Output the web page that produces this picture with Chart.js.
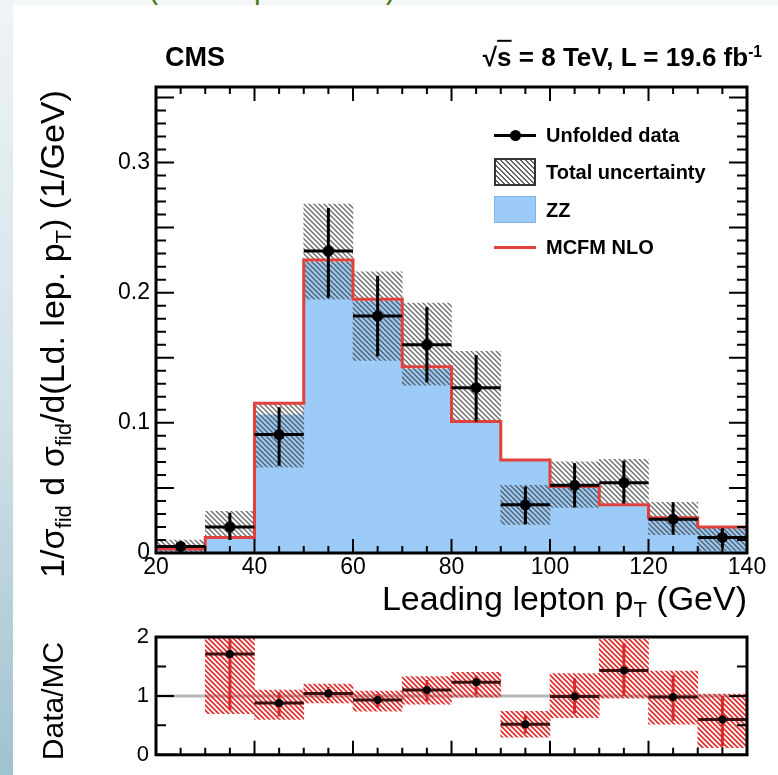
<!DOCTYPE html>
<html>
<head>
<meta charset="utf-8">
<script src="https://cdn.jsdelivr.net/npm/chart.js@4.4.1/dist/chart.umd.min.js"></script>
<style>
  body { margin: 0; width: 778px; height: 775px; overflow: hidden; position: relative;
         background: #f3f7f8; font-family: "Liberation Sans", Arial, sans-serif; }
  #strip { position: absolute; left: 0; top: 0; width: 13px; height: 775px;
           background: linear-gradient(#eef4f6, #cfe0e7 55%, #9fc2cf); }
  #panel { position: absolute; left: 13px; top: 5px; width: 765px; height: 770px; background: #fff; }
  canvas { position: absolute; left: 0; }
  .t { position: absolute; white-space: nowrap; color: #000; line-height: 1; }
  .green { position: absolute; top: -25px; font-size: 30px; line-height: 30px; color: #4d7a12; }
  .leg { position: absolute; left: 546px; font-weight: bold; font-size: 20px; transform: translateY(-50%); }
  sub { font-size: 65%; vertical-align: -0.35em; }
  sup { font-size: 60%; vertical-align: 0.6em; }
</style>
</head>
<body>
<div id="strip"></div>
<span class="green" style="left:149px">(</span>
<span class="green" style="left:254px">p</span>
<span class="green" style="left:385px">)</span>
<div id="panel"></div>

<canvas id="main" width="778" height="600" style="top:0"></canvas>
<canvas id="ratio" width="778" height="165" style="top:610px"></canvas>

<div class="t" style="left:165px; top:57px; transform:translateY(-50%); font-weight:bold; font-size:27px">CMS</div>
<div class="t" style="right:16px; top:57px; transform:translateY(-50%); font-weight:bold; font-size:26px">√<span style="text-decoration:overline">s</span> = 8 TeV, L = 19.6 fb<sup>-1</sup></div>

<div class="t" style="left:55px; top:334px; transform:translate(-50%,-50%) rotate(-90deg); font-size:34px">1/σ<sub>fid</sub> d σ<sub>fid</sub>/d(Ld. lep. p<sub>T</sub>) (1/GeV)</div>
<div class="t" style="right:31px; top:601px; transform:translateY(-50%); font-size:34px">Leading lepton p<sub>T</sub> (GeV)</div>
<div class="t" style="left:53px; top:701px; transform:translate(-50%,-50%) rotate(-90deg); font-size:30px">Data/MC</div>

<!-- legend -->
<div style="position:absolute; left:494px; top:134px; width:42px; height:3px; background:#000"></div>
<div style="position:absolute; left:510px; top:130px; width:11px; height:11px; border-radius:50%; background:#000"></div>
<div class="leg" style="top:135px">Unfolded data</div>
<div style="position:absolute; left:494px; top:158px; width:38px; height:24px; border:2px solid #333;
     background:repeating-linear-gradient(45deg, #fff 0 2px, #666 2px 3.5px)"></div>
<div class="leg" style="top:172px">Total uncertainty</div>
<div style="position:absolute; left:494px; top:196px; width:40px; height:25px; border:1px solid #7fb3ea; background:#9ccbf7"></div>
<div class="leg" style="top:210px">ZZ</div>
<div style="position:absolute; left:494px; top:246px; width:42px; height:3px; background:#e0403e"></div>
<div class="leg" style="top:247px">MCFM NLO</div>

<script>
// bins of leading lepton pT (GeV)
const binEdges = [20, 30, 40, 50, 60, 70, 80, 90, 100, 110, 120, 130, 140];
// unfolded data with stat error and total uncertainty band
const dataVal = [0.005, 0.020, 0.091, 0.232, 0.182, 0.160, 0.127, 0.037, 0.052, 0.054, 0.026, 0.012];
const errHi   = [0.009, 0.031, 0.112, 0.265, 0.213, 0.189, 0.152, 0.051, 0.069, 0.071, 0.039, 0.019];
const errLo   = [0.002, 0.010, 0.067, 0.196, 0.151, 0.131, 0.101, 0.022, 0.035, 0.038, 0.014, 0.004];
const uncHi   = [0.010, 0.032, 0.115, 0.268, 0.216, 0.192, 0.155, 0.052, 0.070, 0.072, 0.039, 0.020];
const uncLo   = [0.001, 0.012, 0.066, 0.195, 0.148, 0.129, 0.101, 0.022, 0.035, 0.038, 0.014, 0.002];
// predictions
const zzVal   = [0.003, 0.011, 0.106, 0.223, 0.193, 0.141, 0.100, 0.071, 0.050, 0.036, 0.026, 0.019];
const mcfmVal = [0.003, 0.012, 0.115, 0.225, 0.195, 0.143, 0.101, 0.0715, 0.051, 0.037, 0.027, 0.020];

// Data/MC ratio panel
const ratioEdges = [30, 40, 50, 60, 70, 80, 90, 100, 110, 120, 130, 140];
const ratioVal   = [1.71, 0.88, 1.04, 0.93, 1.10, 1.23, 0.52, 0.99, 1.43, 0.98, 0.60];
const ratioErrHi = [1.97, 1.06, 1.15, 1.03, 1.27, 1.34, 0.68, 1.30, 1.90, 1.35, 1.00];
const ratioErrLo = [0.76, 0.65, 0.93, 0.80, 0.91, 1.02, 0.36, 0.70, 1.00, 0.58, 0.15];
const ratioUncHi = [2.00, 1.10, 1.20, 1.08, 1.33, 1.40, 0.74, 1.38, 1.96, 1.42, 1.03];
const ratioUncLo = [0.70, 0.60, 0.88, 0.74, 0.86, 0.98, 0.30, 0.63, 0.96, 0.52, 0.12];

const FONT = '"Liberation Sans", Arial, sans-serif';
const BLUE = '#9ccbf7';
const RED = '#e0403e';

function centers(edges) {
    return edges.slice(0, -1).map((e, i) => (e + edges[i + 1]) / 2);
}
// points at low bin edges, last one repeated at upper edge -> stepped histogram
function steps(edges, vals) {
    return edges.map((e, i) => ({ x: e, y: vals[Math.min(i, vals.length - 1)] }));
}

function hatch(color, width) {
    const c = document.createElement('canvas');
    c.width = 5; c.height = 5;
    const g = c.getContext('2d');
    g.strokeStyle = color;
    g.lineWidth = width;
    g.beginPath();
    g.moveTo(-1, -1); g.lineTo(6, 6);
    g.moveTo(-6, -1); g.lineTo(1, 6);
    g.moveTo(4, -1); g.lineTo(11, 6);
    g.stroke();
    return g.createPattern(c, 'repeat');
}

// vertical error bars + horizontal bin-width bars, drawn just before the point dataset
const errorBars = {
    id: 'errorBars',
    beforeDatasetDraw(chart, args) {
        const ds = chart.data.datasets[args.index];
        if (!ds.errLo) return;
        const { ctx, chartArea: a, scales: { x, y } } = chart;
        ctx.save();
        ctx.beginPath();
        ctx.rect(a.left, a.top, a.width, a.height);
        ctx.clip();
        ctx.lineWidth = 3;
        ds.data.forEach((p, i) => {
            const px = x.getPixelForValue(p.x);
            const py = y.getPixelForValue(p.y);
            ctx.strokeStyle = ds.hColor;
            ctx.beginPath();
            ctx.moveTo(x.getPixelForValue(ds.edges[i]), py);
            ctx.lineTo(x.getPixelForValue(ds.edges[i + 1]), py);
            ctx.stroke();
            ctx.strokeStyle = ds.vColor;
            ctx.beginPath();
            ctx.moveTo(px, y.getPixelForValue(ds.errLo[i]));
            ctx.lineTo(px, y.getPixelForValue(ds.errHi[i]));
            ctx.stroke();
        });
        ctx.restore();
    }
};

// ROOT style frame with inward ticks
const frameTicks = {
    id: 'frameTicks',
    afterDraw(chart, args, o) {
        const { ctx, chartArea: a, scales: { x, y } } = chart;
        ctx.save();
        ctx.strokeStyle = '#000';
        ctx.lineWidth = 2;
        ctx.beginPath();
        const isMajor = (v, m) => Math.abs(v / m - Math.round(v / m)) < 1e-6;
        for (let k = 0; ; k++) {
            const v = x.min + k * o.xStep;
            if (v > x.max + 1e-9) break;
            const px = x.getPixelForValue(v);
            const len = isMajor(v, o.xMajor) ? o.xLong : o.xShort;
            ctx.moveTo(px, a.bottom); ctx.lineTo(px, a.bottom - len);
            if (o.top) { ctx.moveTo(px, a.top); ctx.lineTo(px, a.top + len); }
        }
        for (let k = 0; ; k++) {
            const v = y.min + k * o.yStep;
            if (v > y.max + 1e-9) break;
            const py = y.getPixelForValue(v);
            const len = isMajor(v, o.yMajor) ? o.yLong : o.yShort;
            ctx.moveTo(a.left, py); ctx.lineTo(a.left + len, py);
            ctx.moveTo(a.right, py); ctx.lineTo(a.right - len, py);
        }
        ctx.stroke();
        ctx.lineWidth = 3;
        ctx.strokeRect(a.left, a.top, a.width, a.height);
        ctx.restore();
    }
};

Chart.defaults.font.family = FONT;
Chart.defaults.color = '#000';

new Chart(document.getElementById('main'), {
    type: 'line',
    data: {
        datasets: [
            {
                label: 'ZZ',
                data: steps(binEdges, zzVal),
                stepped: true,
                fill: 'origin',
                backgroundColor: BLUE,
                borderColor: BLUE,
                borderWidth: 1,
                pointRadius: 0,
                order: 4
            },
            {
                type: 'bar',
                label: 'Total uncertainty',
                data: centers(binEdges).map((c, i) => ({ x: c, y: [uncLo[i], uncHi[i]] })),
                backgroundColor: hatch('rgba(60,60,60,0.75)', 1.4),
                borderWidth: 0,
                barPercentage: 1,
                categoryPercentage: 1,
                grouped: false,
                order: 3
            },
            {
                label: 'MCFM NLO',
                data: steps(binEdges, mcfmVal),
                stepped: true,
                fill: false,
                borderColor: RED,
                borderWidth: 3,
                pointRadius: 0,
                order: 2
            },
            {
                label: 'Unfolded data',
                data: centers(binEdges).map((c, i) => ({ x: c, y: dataVal[i] })),
                showLine: false,
                pointRadius: 5.5,
                pointBackgroundColor: '#000',
                pointBorderWidth: 0,
                errLo: errLo, errHi: errHi, edges: binEdges,
                hColor: '#000', vColor: '#000',
                order: 0
            }
        ]
    },
    options: {
        responsive: false,
        devicePixelRatio: 1,
        animation: false,
        events: [],
        layout: { padding: { top: 87, right: 31, left: 0, bottom: 0 } },
        plugins: {
            legend: { display: false },
            tooltip: { enabled: false },
            frameTicks: { xStep: 5, xMajor: 20, xLong: 14, xShort: 7, top: true,
                          yStep: 0.01, yMajor: 0.05, yLong: 18, yShort: 10 }
        },
        scales: {
            x: {
                type: 'linear', min: 20, max: 140, offset: false,
                grid: { display: false, drawTicks: false },
                border: { display: false },
                ticks: { stepSize: 20, padding: 1, font: { size: 23 }, maxRotation: 0 },
                afterFit: s => { s.height = 47; }
            },
            y: {
                type: 'linear', min: 0, max: 0.358,
                grid: { display: false, drawTicks: false },
                border: { display: false },
                ticks: { stepSize: 0.1, padding: 6, includeBounds: false, font: { size: 23 } },
                afterFit: s => { s.width = 156; }
            }
        }
    },
    plugins: [errorBars, frameTicks]
});

new Chart(document.getElementById('ratio'), {
    type: 'line',
    data: {
        datasets: [
            {
                label: 'unity',
                data: [{ x: 20, y: 1 }, { x: 140, y: 1 }],
                borderColor: '#b8b8b8',
                borderWidth: 3,
                pointRadius: 0,
                order: 3
            },
            {
                type: 'bar',
                label: 'uncertainty',
                data: centers(ratioEdges).map((c, i) => ({ x: c, y: [ratioUncLo[i], ratioUncHi[i]] })),
                backgroundColor: hatch('rgba(222,35,35,0.95)', 1.7),
                borderWidth: 0,
                barPercentage: 1,
                categoryPercentage: 1,
                grouped: false,
                order: 2
            },
            {
                label: 'Data/MC',
                data: centers(ratioEdges).map((c, i) => ({ x: c, y: ratioVal[i] })),
                showLine: false,
                pointRadius: 4,
                pointBackgroundColor: '#000',
                pointBorderWidth: 0,
                errLo: ratioErrLo, errHi: ratioErrHi, edges: ratioEdges,
                hColor: '#3a1010', vColor: '#d42a2a',
                order: 0
            }
        ]
    },
    options: {
        responsive: false,
        devicePixelRatio: 1,
        animation: false,
        events: [],
        layout: { padding: { top: 27, right: 31, left: 0, bottom: 0 } },
        plugins: {
            legend: { display: false },
            tooltip: { enabled: false },
            frameTicks: { xStep: 5, xMajor: 20, xLong: 14, xShort: 7, top: false,
                          yStep: 0.5, yMajor: 1, yLong: 18, yShort: 10 }
        },
        scales: {
            x: {
                type: 'linear', min: 20, max: 140, offset: false,
                grid: { display: false, drawTicks: false },
                border: { display: false },
                ticks: { display: false, stepSize: 20 },
                afterFit: s => { s.height = 14; }
            },
            y: {
                type: 'linear', min: 0, max: 2,
                grid: { display: false, drawTicks: false },
                border: { display: false },
                ticks: { stepSize: 1, padding: 7, font: { size: 22 } },
                afterFit: s => { s.width = 156; }
            }
        }
    },
    plugins: [errorBars, frameTicks]
});
</script>
</body>
</html>
